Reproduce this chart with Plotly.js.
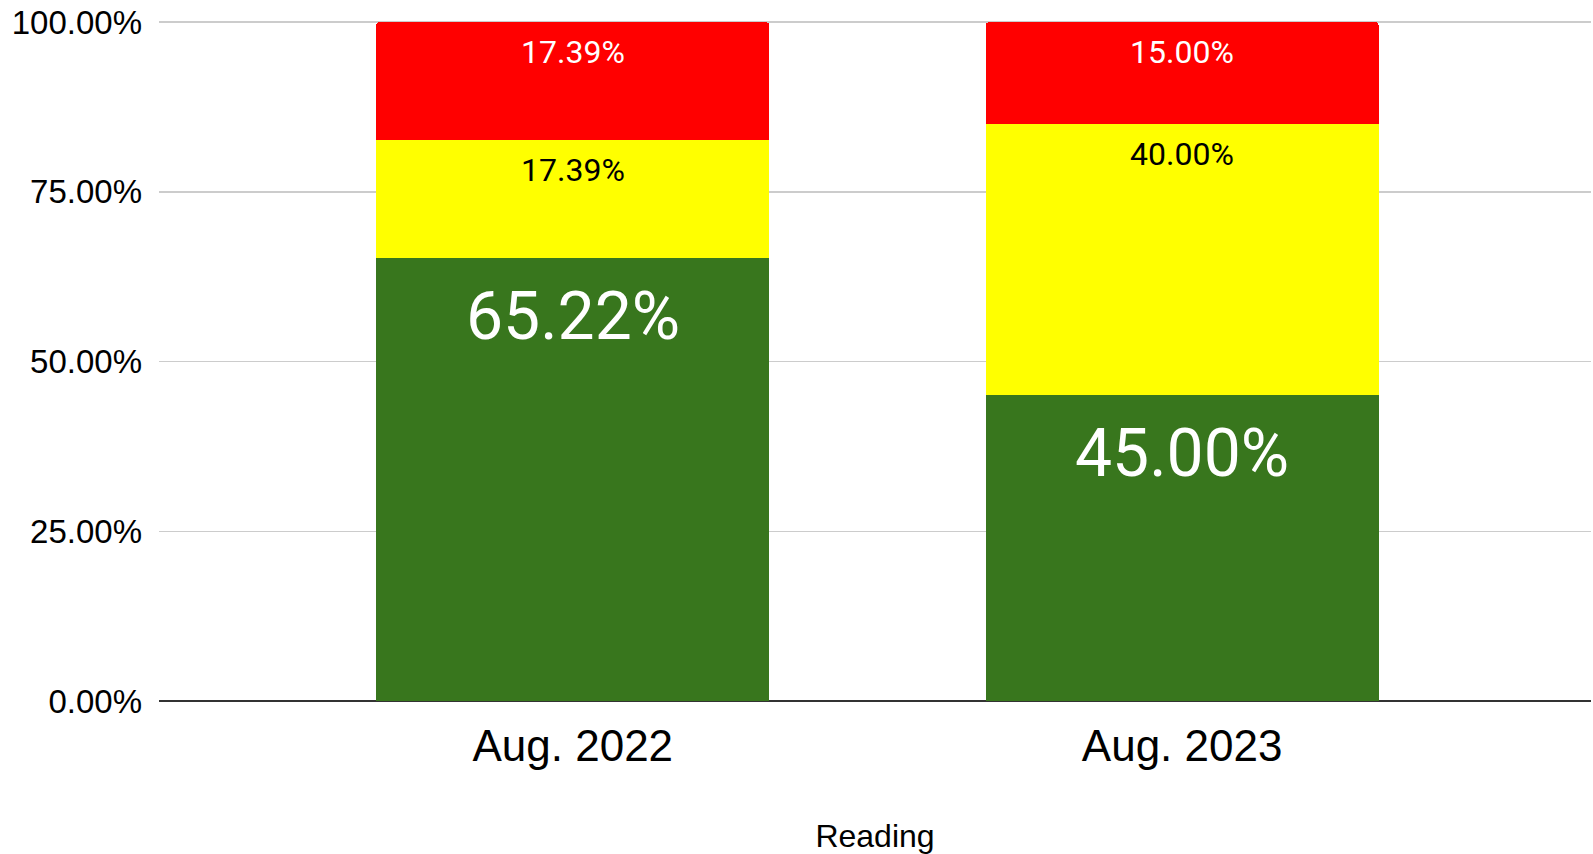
<!DOCTYPE html>
<html>
<head>
<meta charset="utf-8">
<script src="https://cdn.plot.ly/plotly-3.0.1.min.js"></script>
<style>
  html, body { margin: 0; padding: 0; background: #ffffff; }
  #chart { width: 1593px; height: 854px; }
</style>
</head>
<body>
<div id="chart"></div>
<script>
// ---- Data ----
const categories = ['Aug. 2022', 'Aug. 2023'];
const greenValues = [0.6522, 0.4500];
const yellowValues = [0.1739, 0.4000];
const redValues = [0.1739, 0.1500];
const yTickValues = [0, 0.25, 0.5, 0.75, 1.0];
const xAxisTitle = 'Reading';

// ---- Styles ----
const GREEN = '#38761d', YELLOW = '#ffff00', RED = '#ff0000';
const tickFont = 'Liberation Sans, Arial, sans-serif';
const labelFont = 'Roboto, Liberation Sans, sans-serif';

const series = [
  { name: 'Green', values: greenValues, color: GREEN, textColor: '#ffffff', size: 66, shift: -58 },
  { name: 'Yellow', values: yellowValues, color: YELLOW, textColor: '#000000', size: 32, shift: -30 },
  { name: 'Red', values: redValues, color: RED, textColor: '#ffffff', size: 32, shift: -30 }
];

const traces = series.map(s => ({
  type: 'bar',
  name: s.name,
  x: categories,
  y: s.values,
  width: 0.645,
  marker: { color: s.color, line: { width: 0 } },
  hoverinfo: 'skip',
  showlegend: false
}));

// Labels at the top of each segment (positions from cumulative data)
const annotations = [];
const cumulative = categories.map(() => 0);
series.forEach(s => {
  s.values.forEach((v, i) => {
    cumulative[i] += v;
    annotations.push({
      x: categories[i],
      y: cumulative[i],
      xref: 'x', yref: 'y',
      text: (v * 100).toFixed(2) + '%',
      showarrow: false,
      yanchor: 'middle',
      yshift: s.shift,
      font: { family: labelFont, size: s.size, color: s.textColor }
    });
  });
});

const layout = {
  width: 1593,
  height: 854,
  paper_bgcolor: '#ffffff',
  plot_bgcolor: '#ffffff',
  barmode: 'stack',
  barcornerradius: 4,
  margin: { l: 159, r: 2, t: 18, b: 153, pad: 0 },
  showlegend: false,
  xaxis: {
    type: 'category',
    range: [-0.679, 1.671],
    showgrid: false,
    zeroline: false,
    showline: false,
    ticks: '',
    ticklabelstandoff: 15,
    tickfont: { family: tickFont, size: 44, color: '#000000' },
    title: { text: xAxisTitle, standoff: 57, font: { family: tickFont, size: 32, color: '#000000' } },
    automargin: false
  },
  yaxis: {
    range: [0, 1.006],
    tickvals: yTickValues,
    tickformat: '.2%',
    showgrid: true,
    gridcolor: '#cccccc',
    gridwidth: 1.5,
    zeroline: true,
    zerolinecolor: '#333333',
    zerolinewidth: 2,
    showline: false,
    ticks: '',
    ticklabelstandoff: 16,
    tickfont: { family: tickFont, size: 33, color: '#000000' },
    automargin: false
  },
  annotations: annotations
};

Plotly.newPlot('chart', traces, layout, { staticPlot: true, displayModeBar: false });
</script>
</body>
</html>
